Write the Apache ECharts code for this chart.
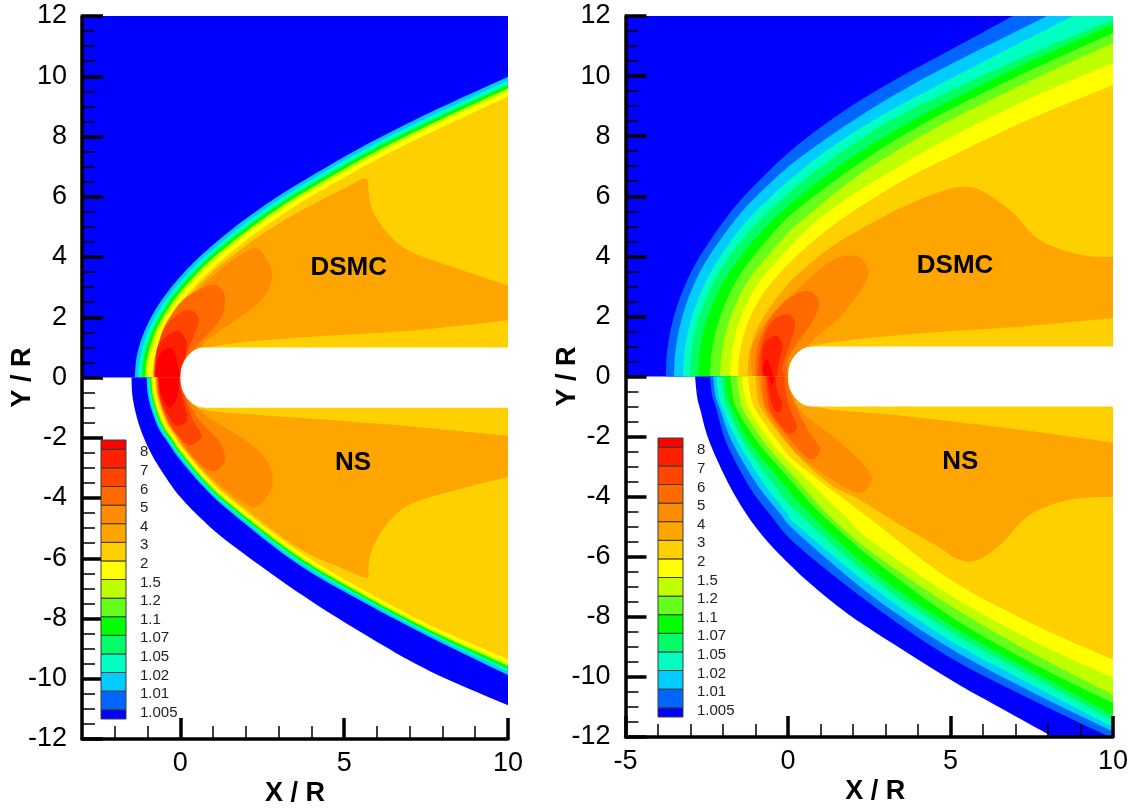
<!DOCTYPE html>
<html><head><meta charset="utf-8">
<style>html,body{margin:0;padding:0;background:#fff}#c{width:1135px;height:808px}</style>
<script src="https://cdn.jsdelivr.net/npm/echarts@6/dist/echarts.min.js"></script>
</head><body><div id="c"></div>
<script>
// ---- colour levels (legend bottom to top)
const legendLabels = ['1.005','1.01','1.02','1.05','1.07','1.1','1.2','1.5','2','3','4','5','6','7','8'];
const legendColors = ['#0000ff','#0066ff','#00ccff','#00ffc0','#00ff66','#00ff00','#66ff1a','#bfff00','#ffff00','#ffd000','#ffa500','#ff8c00','#ff6a00','#ff4500','#ff2000','#ff0000'];
const legendEdges = [0.5,1,2,3,4,5,6,7,8,9,10,11,12,13,14,15,15.5];
const [BLUE,C01,C02,C05,C07,C1,C12,C15,C2,C3,C4,C5,C6,C7,C8,C9] = legendColors;

// ---- cylinder body (nose outlines and straight sides, X/R, Y/R)
const noseUp  = [[0,0],[0.03,0.3],[0.12,0.55],[0.28,0.78],[0.5,0.95],[0.75,1.0]];
const bodySide = [[10,1.0],[10,-1.0]];
const noseLow = [[0.75,-1.0],[0.5,-0.95],[0.28,-0.78],[0.12,-0.55],[0.03,-0.3],[0,0]];
const upperRect = [[-3,0],[-3,12]];
const upperRectEnd = [[10,12],[10,0]];
const upperRectR = [[-5,0],[-5,12]];

// ---- DSMC panel A (left, upper half)
const aU_c02 = [[-1.39,0],[-1.33,0.69],[-1.14,1.41],[-0.84,2.1],[-0.47,2.72],[0,3.35],[0.61,4.03],[1.61,4.95],[2.61,5.74],[3.61,6.44],[5.61,7.69],[7.61,8.79],[10,9.98]];
const aU_c05 = [[-1.28,0],[-1.22,0.66],[-1.02,1.42],[-0.72,2.09],[-0.36,2.69],[0.11,3.31],[0.72,3.98],[1.72,4.9],[2.72,5.68],[3.72,6.38],[5.72,7.62],[7.72,8.71],[10,9.85]];
const aU_c1  = [[-1.17,0],[-1.12,0.63],[-0.9,1.43],[-0.6,2.08],[-0.25,2.66],[0.22,3.27],[0.83,3.94],[1.83,4.84],[2.83,5.62],[3.83,6.31],[5.83,7.55],[7.83,8.63],[10,9.72]];
const aU_c15 = [[-1.07,0],[-1.02,0.6],[-0.79,1.44],[-0.49,2.08],[-0.15,2.63],[0.32,3.24],[0.93,3.9],[1.93,4.79],[2.93,5.57],[3.93,6.25],[5.93,7.48],[7.93,8.56],[10,9.6]];
const aU_c2  = [[-0.99,0],[-0.95,0.57],[-0.71,1.45],[-0.41,2.07],[-0.07,2.6],[0.4,3.21],[1.01,3.86],[2.01,4.76],[3.01,5.52],[4.01,6.21],[6.01,7.43],[8.01,8.51],[10,9.5]];
const aU_c3  = [[-0.84,0],[-0.8,0.53],[-0.54,1.47],[-0.24,2.06],[0.08,2.56],[0.55,3.16],[1.16,3.8],[2.16,4.68],[3.16,5.44],[4.16,6.12],[6.16,7.33],[8.16,8.4],[10,9.32]];
const aU_c4  = [[-0.83,0],[-0.78,0.53],[-0.5,1.45],[-0.2,2.03],[0.12,2.52],[0.6,3.1],[1.22,3.72],[2.22,4.55],[3.22,5.25],[4.35,5.92],[5.1,6.33],[5.55,6.6],[5.72,6.55],[5.75,6.2],[5.88,5.5],[6.4,4.7],[7.1,4.15],[8.63,3.55],[10,3.05]];
const aU_c4b = [[10,1.9],[7,1.55],[3.65,1.33],[1,1.03],[0,0.5],[0,0]];
const aU_c5  = [[-0.82,0],[-0.77,0.7],[-0.5,1.5],[-0.2,2.0],[0.5,2.85],[1.11,3.47],[1.6,3.9],[2.27,4.3],[2.62,3.95],[2.8,3.34],[2.52,2.62],[1.82,2.0],[1.11,1.48],[0.6,1.0],[0.2,0.5],[0,0]];
const aU_c6  = [[-0.81,0],[-0.75,0.7],[-0.62,1.3],[-0.38,1.9],[0.15,2.64],[0.96,3.07],[1.3,2.85],[1.36,2.47],[1.2,1.91],[0.6,1.15],[0.15,0.5],[0,0]];
const aU_c7  = [[-0.8,0],[-0.73,0.6],[-0.58,1.4],[-0.3,1.9],[0.2,2.24],[0.5,2.1],[0.55,1.8],[0.4,1.35],[0.15,0.65],[0,0]];
const aU_c8  = [[-0.78,0],[-0.72,0.9],[-0.5,1.3],[-0.1,1.55],[0.12,1.35],[0.2,1.0],[0,0]];
const aU_c9  = [[-0.76,0],[-0.72,0.5],[-0.6,0.8],[-0.38,0.98],[-0.2,0.9],[-0.1,0.55],[0,0]];

// ---- NS panel A (left, lower half)
const aL_blue= [[-1.49,0],[-1.45,-0.7],[-1.25,-1.6],[-0.9,-2.5],[-0.45,-3.3],[0,-3.97],[0.7,-4.75],[1.51,-5.5],[3.55,-7.1],[5.58,-8.5],[7.62,-9.75],[10,-10.88]];
const aL_c02 = [[-1.03,0],[-0.97,-0.7],[-0.7,-1.6],[-0.35,-2.2],[0,-2.74],[0.7,-3.62],[1.51,-4.44],[3.55,-6.17],[5.58,-7.45],[7.62,-8.62],[10,-9.88]];
const aL_c05 = [[-0.98,0],[-0.92,-0.69],[-0.65,-1.58],[-0.31,-2.16],[0,-2.64],[0.7,-3.53],[1.51,-4.36],[3.55,-6.08],[5.58,-7.37],[7.62,-8.54],[10,-9.77]];
const aL_c1  = [[-0.93,0],[-0.87,-0.68],[-0.6,-1.56],[-0.27,-2.12],[0,-2.54],[0.7,-3.44],[1.51,-4.28],[3.55,-5.99],[5.58,-7.29],[7.62,-8.46],[10,-9.67]];
const aL_c15 = [[-0.885,0],[-0.825,-0.67],[-0.555,-1.54],[-0.23,-2.08],[0,-2.46],[0.7,-3.37],[1.51,-4.2],[3.55,-5.91],[5.58,-7.22],[7.62,-8.39],[10,-9.57]];
const aL_c2  = [[-0.85,0],[-0.79,-0.66],[-0.52,-1.53],[-0.21,-2.06],[0,-2.39],[0.7,-3.3],[1.51,-4.15],[3.55,-5.85],[5.58,-7.16],[7.62,-8.33],[10,-9.5]];
const aL_c3  = [[-0.78,0],[-0.72,-0.65],[-0.45,-1.5],[-0.15,-2.0],[0,-2.25],[0.7,-3.18],[1.51,-4.03],[3.55,-5.73],[5.58,-7.05],[7.62,-8.22],[10,-9.35]];
const aL_c4  = [[-0.76,0],[-0.69,-0.62],[-0.42,-1.47],[-0.12,-1.97],[0.03,-2.25],[0.72,-3.13],[1.54,-3.97],[3.55,-5.62],[5.08,-6.4],[5.6,-6.63],[5.75,-6.6],[5.74,-6.3],[5.88,-5.63],[6.4,-4.74],[7.1,-4.17],[8.63,-3.67],[10,-3.3]];
const aL_c4b = [[10,-1.94],[6.6,-1.58],[2.52,-1.25],[0.69,-1.05],[0,-0.5],[0,0]];
const aL_c5  = [[-0.74,0],[-0.67,-0.6],[-0.4,-1.45],[-0.1,-1.95],[0.5,-2.85],[1.2,-3.55],[1.8,-4.05],[2.27,-4.3],[2.65,-3.95],[2.82,-3.34],[2.52,-2.57],[1.82,-1.97],[0.69,-1.18],[0.2,-0.5],[0,0]];
const aL_c6  = [[-0.72,0],[-0.65,-0.6],[-0.38,-1.45],[-0.05,-2.0],[0.45,-2.7],[0.96,-3.1],[1.3,-2.9],[1.36,-2.57],[1.15,-2.07],[0.5,-1.3],[0.15,-0.5],[0,0]];
const aL_c7  = [[-0.7,0],[-0.63,-0.7],[-0.36,-1.45],[-0.05,-1.95],[0.29,-2.24],[0.6,-2.05],[0.63,-1.85],[0.38,-1.4],[0.12,-0.6],[0,0]];
const aL_c8  = [[-0.68,0],[-0.6,-0.7],[-0.35,-1.3],[-0.11,-1.6],[0.14,-1.5],[0.2,-1.3],[0.1,-0.8],[0,-0.3],[0,0]];
const aL_c9  = [[-0.66,0],[-0.58,-0.6],[-0.32,-1.0],[-0.08,-0.6],[-0.04,0]];

// ---- DSMC panel B (right, upper half)
const bU_c01 = [[-3.76,0],[-3.72,0.81],[-3.56,1.79],[-3.26,2.79],[-2.76,3.91],[-1.76,5.48],[-0.76,6.66],[0.37,7.77],[1.9,8.97],[3.45,9.97],[4.98,10.86],[6.92,12]];
const bU_c02 = [[-3.51,0],[-3.47,0.79],[-3.31,1.75],[-3.01,2.76],[-2.51,3.86],[-1.51,5.37],[-0.51,6.48],[0.37,7.29],[1.9,8.45],[3.45,9.48],[4.98,10.38],[7.97,12]];
const bU_c05 = [[-3.23,0],[-3.19,0.76],[-3.03,1.7],[-2.73,2.66],[-2.23,3.74],[-1.23,5.22],[0.37,6.84],[1.9,8.04],[3.45,9.03],[4.98,9.9],[6.77,10.9],[8.77,12]];
const bU_c07 = [[-3.02,0],[-2.98,0.74],[-2.82,1.66],[-2.52,2.6],[-2.02,3.65],[-1.02,5.04],[0.37,6.43],[1.9,7.67],[3.45,8.7],[4.98,9.51],[7.5,10.76],[10,11.88]];
const bU_c1  = [[-2.77,0],[-2.73,0.72],[-2.57,1.61],[-2.27,2.52],[-1.77,3.52],[-0.77,4.88],[0.37,6.01],[1.9,7.25],[3.45,8.29],[4.98,9.19],[7.5,10.51],[10,11.72]];
const bU_c12 = [[-2.4,0],[-2.36,0.72],[-2.2,1.6],[-1.9,2.51],[-1.4,3.51],[-0.4,4.86],[0.37,5.64],[1.9,6.88],[3.45,7.97],[4.98,8.89],[7.5,10.22],[10,11.43]];
const bU_c15 = [[-2.09,0],[-2.05,0.71],[-1.89,1.57],[-1.59,2.45],[-1.09,3.41],[-0.09,4.67],[0.37,5.14],[1.9,6.49],[3.45,7.59],[4.98,8.53],[7.5,9.87],[10,11.1]];
const bU_c2  = [[-1.78,0],[-1.74,0.69],[-1.58,1.54],[-1.28,2.39],[-0.78,3.3],[0.37,4.66],[1.1,5.37],[2.2,6.2],[3.45,7.01],[4.98,7.95],[7.5,9.29],[10,10.43]];
const bU_c3  = [[-1.54,0],[-1.5,0.66],[-1.34,1.46],[-1.04,2.26],[-0.54,3.08],[0.37,4.12],[1.6,5.2],[3.45,6.47],[4.98,7.31],[7.5,8.6],[10,9.7]];
const bU_c4  = [[-1.25,0],[-1.17,0.9],[-0.8,1.9],[-0.1,2.95],[0.4,3.5],[1.38,4.35],[2.4,5.0],[3.45,5.6],[4.83,6.2],[5.75,6.27],[6.83,5.54],[7.75,4.54],[9,4.05],[10,3.98]];
const bU_c4b = [[10,1.95],[7,1.65],[3.45,1.38],[0.68,1.0],[0,0.4],[0,0]];
const bU_c5  = [[-1.1,0],[-1.1,1],[-0.55,2],[0.37,2.98],[1.38,3.88],[2.12,4.0],[2.46,3.54],[2.3,2.98],[1.6,1.98],[0.77,1.2],[0.1,0.4],[0,0]];
const bU_c6  = [[-1.0,0],[-0.95,0.9],[-0.65,1.78],[-0.03,2.55],[0.62,2.85],[0.95,2.44],[0.77,1.88],[0.28,1.1],[0,0.55],[0,0]];
const bU_c7  = [[-0.92,0],[-0.85,0.9],[-0.55,1.78],[0,2.08],[0.22,1.71],[0.06,1.1],[-0.18,0.3],[-0.05,0]];
const bU_c8  = [[-0.8,0],[-0.77,0.98],[-0.4,1.35],[-0.17,1.05],[-0.3,0.4],[-0.34,0]];
const bU_c9  = [[-0.72,0],[-0.77,0.28],[-0.65,0.58],[-0.5,0.2],[-0.45,0]];

// ---- NS panel B (right, lower half)
const bL_blue= [[-2.86,0],[-2.8,-0.65],[-2.7,-1.1],[-2.4,-2.22],[-1.69,-3.85],[-0.86,-5.2],[0.28,-6.5],[1.5,-7.62],[2.52,-8.4],[4.98,-10.08],[6.3,-10.89],[8.0,-11.91],[8.13,-12]];
const bL_c01 = [[-2.4,0],[-2.34,-0.6],[-2.2,-1.1],[-1.89,-2.22],[-1.2,-3.65],[-0.55,-4.6],[0.28,-5.62],[2.52,-7.55],[4.98,-9.35],[7.5,-10.76],[9.9,-12]];
const bL_c02 = [[-2.3,0],[-2.24,-0.6],[-2.09,-1.1],[-1.7,-2.22],[-0.95,-3.6],[-0.25,-4.55],[0.28,-5.2],[2.52,-7.25],[4.98,-9.04],[7.5,-10.5],[10,-11.82]];
const bL_c05 = [[-2.2,0],[-2.14,-0.6],[-2.0,-1.1],[-1.52,-2.22],[-0.72,-3.6],[-0.03,-4.55],[0.28,-4.95],[2.52,-6.95],[4.98,-8.78],[7.5,-10.26],[10,-11.67]];
const bL_c07 = [[-2.04,0],[-1.98,-0.6],[-1.84,-1.1],[-1.34,-2.22],[-0.46,-3.55],[0.22,-4.45],[2.52,-6.65],[4.98,-8.48],[7.5,-9.99],[10,-11.44]];
const bL_c1  = [[-1.94,0],[-1.87,-0.6],[-1.7,-1.1],[-1.15,-2.22],[-0.15,-3.55],[0.5,-4.38],[2.52,-6.4],[4.98,-8.26],[7.5,-9.79],[10,-11.27]];
const bL_c12 = [[-1.78,0],[-1.71,-0.6],[-1.57,-1.1],[-0.91,-2.22],[0.28,-3.7],[0.9,-4.45],[2.52,-6.0],[4.98,-7.97],[7.5,-9.54],[10,-10.87]];
const bL_c15 = [[-1.58,0],[-1.5,-0.6],[-1.38,-1.1],[-0.71,-2.22],[0.28,-3.45],[1.29,-4.65],[2.52,-5.8],[4.98,-7.62],[7.5,-9.2],[10,-10.6]];
const bL_c2  = [[-1.42,0],[-1.34,-0.6],[-1.19,-1.1],[-0.5,-2.22],[0.28,-3.1],[1.75,-4.65],[2.52,-5.44],[4.98,-7.27],[7.5,-8.78],[10,-10.03]];
const bL_c3  = [[-1.23,0],[-1.16,-0.6],[-1.0,-1.1],[-0.27,-2.22],[0.28,-2.88],[2.42,-4.65],[4.98,-6.75],[7.5,-8.22],[10,-9.43]];
const bL_c4  = [[-1.0,0],[-0.95,-0.6],[-0.8,-1.1],[-0.09,-2.15],[0.6,-2.95],[1.38,-3.65],[2.2,-4.1],[3.45,-4.94],[4.68,-5.7],[5.14,-6.04],[5.75,-6.14],[6.52,-5.61],[7.45,-4.6],[8.68,-4.1],[10,-4.0]];
const bL_c4b = [[10,-2.2],[7,-1.75],[3.45,-1.3],[0.9,-1.02],[0,-0.4],[0,0]];
const bL_c5  = [[-0.92,0],[-0.7,-1.1],[0.06,-2.3],[0.7,-2.95],[1.38,-3.45],[2.2,-3.88],[2.58,-3.42],[2.3,-2.9],[1.5,-2.1],[0.46,-1.22],[0.16,-0.65],[0,-0.2],[0,0]];
const bL_c6  = [[-0.8,0],[-0.64,-1.1],[0.46,-2.58],[0.83,-2.71],[0.98,-2.38],[0.68,-1.9],[0.28,-1.08],[0.03,-0.42],[0,0]];
const bL_c7  = [[-0.7,0],[-0.55,-1.1],[-0.09,-1.82],[0.12,-1.9],[0.28,-1.67],[0.06,-1.1],[-0.09,-0.42],[-0.1,0]];
const bL_c8  = [[-0.66,0],[-0.5,-0.9],[-0.3,-1.2],[-0.18,-0.95],[-0.34,-0.42],[-0.38,0]];
const bL_c9  = [[-0.6,0],[-0.5,-0.3],[-0.4,0]];

// ---- text annotations
const notesA = [['DSMC',5.14,3.64],['NS',5.27,-2.84]];
const notesB = [['DSMC',5.14,3.68],['NS',5.3,-2.84]];
const xMajorA = [0,5,10];
const xMinorA = [-2,-1,1,2,3,4,6,7,8,9];

function spline(p){
  if(p.length<3) return p;
  const out=[];
  for(let i=0;i<p.length-1;i++){
    const a=p[Math.max(i-1,0)],b=p[i],c=p[i+1],d=p[Math.min(i+2,p.length-1)];
    for(let k=0;k<10;k++){
      const t=k/10,t2=t*t,t3=t2*t;
      out.push([0,1].map(j=>0.5*(2*b[j]+(c[j]-a[j])*t+(2*a[j]-5*b[j]+4*c[j]-d[j])*t2+(3*b[j]-a[j]-3*c[j]+d[j])*t3)));
    }
  }
  out.push(p[p.length-1]);
  return out;
}
function band(color,idx,...segs){
  return {type:'custom',coordinateSystem:'cartesian2d',xAxisIndex:idx[0],yAxisIndex:idx[1],
    clip:true,silent:true,animation:false,encode:{x:0,y:1},z:2,data:segs.flat(),
    renderItem(params,api){
      if(params.dataIndex!==0) return null;
      const pts=[];
      segs.forEach(s=>pts.push(...spline(s.map(q=>api.coord(q)))));
      return {type:'polygon',shape:{points:pts},style:{fill:color}};
    }};
}
const cU=[[10,0]], cUT=[[10,12],[10,0]], cL=[[10,0]], cLB=[[10,-12],[10,0]];
const A=[0,0], B=[2,1];
const series=[
  band(BLUE,A,upperRect,upperRectEnd),
  band(C02,A,aU_c02,cU),band(C05,A,aU_c05,cU),band(C1,A,aU_c1,cU),band(C15,A,aU_c15,cU),band(C2,A,aU_c2,cU),band(C3,A,aU_c3,cU),
  band(C4,A,aU_c4,aU_c4b),band(C5,A,aU_c5),band(C6,A,aU_c6),band(C7,A,aU_c7),band(C8,A,aU_c8),band(C9,A,aU_c9),
  band(BLUE,A,aL_blue,cL),
  band(C02,A,aL_c02,cL),band(C05,A,aL_c05,cL),band(C1,A,aL_c1,cL),band(C15,A,aL_c15,cL),band(C2,A,aL_c2,cL),band(C3,A,aL_c3,cL),
  band(C4,A,aL_c4,aL_c4b),band(C5,A,aL_c5),band(C6,A,aL_c6),band(C7,A,aL_c7),band(C8,A,aL_c8),band(C9,A,aL_c9),
  band('#ffffff',A,noseUp,bodySide,noseLow),

  band(BLUE,B,upperRectR,upperRectEnd),
  band(C01,B,bU_c01,cUT),band(C02,B,bU_c02,cUT),band(C05,B,bU_c05,cUT),band(C07,B,bU_c07,cU),band(C1,B,bU_c1,cU),band(C12,B,bU_c12,cU),band(C15,B,bU_c15,cU),band(C2,B,bU_c2,cU),band(C3,B,bU_c3,cU),
  band(C4,B,bU_c4,bU_c4b),band(C5,B,bU_c5),band(C6,B,bU_c6),band(C7,B,bU_c7),band(C8,B,bU_c8),band(C9,B,bU_c9),
  band(BLUE,B,bL_blue,cLB),
  band(C01,B,bL_c01,cLB),band(C02,B,bL_c02,cL),band(C05,B,bL_c05,cL),band(C07,B,bL_c07,cL),band(C1,B,bL_c1,cL),band(C12,B,bL_c12,cL),band(C15,B,bL_c15,cL),band(C2,B,bL_c2,cL),band(C3,B,bL_c3,cL),
  band(C4,B,bL_c4,bL_c4b),band(C5,B,bL_c5),band(C6,B,bL_c6),band(C7,B,bL_c7),band(C8,B,bL_c8),band(C9,B,bL_c9),
  band('#ffffff',B,noseUp,bodySide,noseLow),
];
[[notesA,A],[notesB,B]].forEach(([n,ix])=>series.push({type:'scatter',xAxisIndex:ix[0],yAxisIndex:ix[1],symbolSize:0,silent:true,animation:false,z:10,
  itemStyle:{opacity:1},data:n.map(r=>({name:r[0],value:[r[1],r[2]]})),
  label:{show:true,position:'inside',opacity:1,formatter:p=>p.name,fontFamily:'Liberation Sans',fontWeight:'bold',fontSize:26,color:'#000'}}));
[[3,2],[4,3]].forEach(ix=>series.push({type:'custom',coordinateSystem:'cartesian2d',xAxisIndex:ix[0],yAxisIndex:ix[1],clip:false,silent:true,animation:false,z:30,
  encode:{x:0,y:1},data:legendColors.map((c,i)=>[0,legendEdges[i],1,legendEdges[i+1]]),
  renderItem(params,api){
    const a=api.coord([api.value(0),api.value(1)]),b=api.coord([api.value(2),api.value(3)]);
    return {type:'rect',shape:{x:a[0],y:b[1],width:b[0]-a[0],height:a[1]-b[1]},style:{fill:legendColors[params.dataIndex],stroke:'#3a3a3a',lineWidth:1}};
  }}));

const FONT='Liberation Sans';
const line={lineStyle:{color:'#000',width:3.5}};
const axisLabel={fontFamily:FONT,fontSize:27,color:'#000',margin:15};
const nameStyle={fontFamily:FONT,fontWeight:'bold',fontSize:27,color:'#000'};
const major={show:true,inside:true,length:21,lineStyle:{color:'#000',width:3.5}};
const minor={show:true,length:13,lineStyle:{color:'#000',width:1.5}};
function yMain(g,gap){return {type:'value',gridIndex:g,min:-12,max:12,interval:2,z:20,name:'Y / R',nameLocation:'middle',nameGap:gap,nameRotate:90,nameMoveOverlap:false,nameTextStyle:nameStyle,
  axisLine:{show:true,onZero:false,...line},axisTick:major,minorTick:{...minor,splitNumber:4},axisLabel,splitLine:{show:false},minorSplitLine:{show:false}};}
function legendY(g){return {type:'value',gridIndex:g,position:'right',min:0.5,max:15.5,axisLine:{show:false},axisTick:{show:false},splitLine:{show:false},
  axisLabel:{show:true,customValues:legendLabels.map((_,i)=>i+1-0.16),formatter:v=>legendLabels[Math.round(v)-1],margin:14,fontFamily:FONT,fontSize:15,color:'#222',align:'left'}};}
function legendX(g){return {type:'value',gridIndex:g,min:0,max:1,show:false};}
const option={
  backgroundColor:'#fff',animation:false,
  grid:[
    {left:82,top:16,width:426,height:723,outerBoundsMode:'none'},
    {left:625.5,top:16,width:487.5,height:721,outerBoundsMode:'none'},
    {left:101,top:440,width:25,height:279,z:30,outerBoundsMode:'none'},
    {left:658,top:438,width:25,height:279,z:30,outerBoundsMode:'none'}
  ],
  xAxis:[
    {type:'value',gridIndex:0,position:'bottom',min:-3,max:10,z:20,name:'X / R',nameLocation:'middle',nameGap:41,nameMoveOverlap:false,nameTextStyle:nameStyle,
      axisLine:{show:true,onZero:false,...line},axisTick:{...major,customValues:xMajorA},axisLabel:{...axisLabel,margin:11,customValues:xMajorA},splitLine:{show:false}},
    {type:'value',gridIndex:0,position:'bottom',min:-3,max:10,z:20,axisLine:{show:false,onZero:false},
      axisTick:{show:true,inside:true,length:13,customValues:xMinorA,lineStyle:{color:'#000',width:1.5}},axisLabel:{show:false},splitLine:{show:false}},
    {type:'value',gridIndex:1,position:'bottom',min:-5,max:10,interval:5,z:20,name:'X / R',nameLocation:'middle',nameGap:41,nameMoveOverlap:false,nameTextStyle:{...nameStyle,padding:[0,0,0,12]},
      axisLine:{show:true,onZero:false,...line},axisTick:major,minorTick:{...minor,splitNumber:5},axisLabel:{...axisLabel,margin:11},splitLine:{show:false},minorSplitLine:{show:false}},
    legendX(2),legendX(3)
  ],
  yAxis:[yMain(0,46),yMain(1,44),legendY(2),legendY(3)],
  series
};
const chart=echarts.init(document.getElementById('c'),null,{renderer:'canvas'});
chart.setOption(option);
</script></body></html>
